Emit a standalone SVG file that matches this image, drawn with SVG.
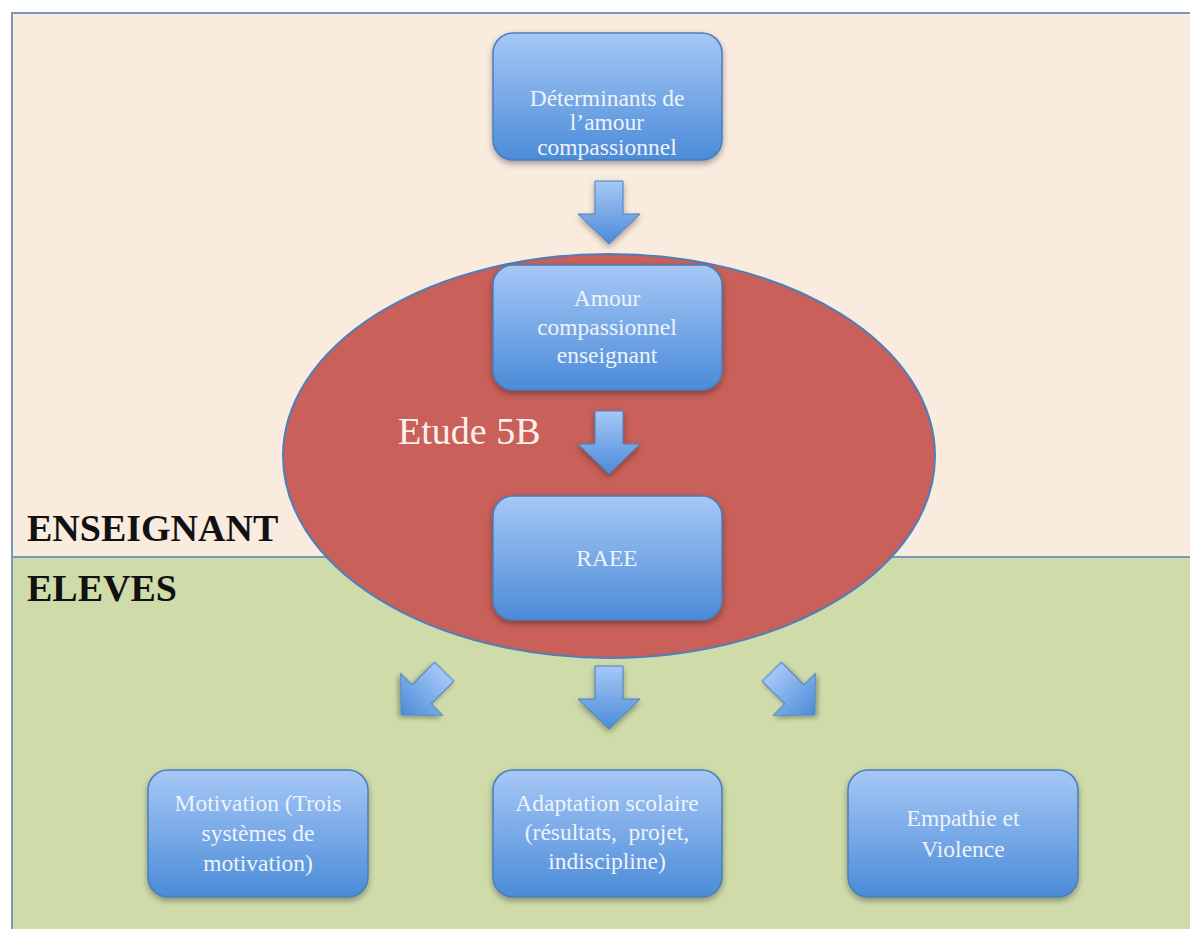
<svg xmlns="http://www.w3.org/2000/svg" width="1190" height="929" viewBox="0 0 1190 929">
<defs>
<linearGradient id="bg" x1="0" y1="0" x2="0" y2="1">
<stop offset="0" stop-color="#A6C8F6"/>
<stop offset="1" stop-color="#4B8BD8"/>
</linearGradient>
<filter id="sh" x="-20%" y="-20%" width="140%" height="150%">
<feDropShadow dx="0" dy="3" stdDeviation="3" flood-color="#000" flood-opacity="0.35"/>
</filter>
<polygon id="arr" points="-14,-31 14,-31 14,2 31,2 0,32 -31,2 -14,2"/>
<style>
.box{fill:url(#bg);stroke:#4A7EBB;stroke-width:1.5;filter:url(#sh)}
.bt{font-family:"Liberation Serif",serif;font-size:23.5px;fill:#EEF3FB;text-anchor:middle}
.ar{fill:url(#bg);stroke:#4A7EBB;stroke-width:1;filter:url(#sh)}
.lab{font-family:"Liberation Serif",serif;font-size:38px;font-weight:bold;fill:#111}
</style>
</defs>
<rect width="1190" height="929" fill="#FFFFFF"/>
<rect id="top-pane" x="12" y="13" width="1190" height="544" fill="#FAEBDF" stroke="#7A98BC" stroke-width="2"/>
<rect id="bottom-pane" x="12" y="557" width="1190" height="380" fill="#CFDCAA" stroke="#7A98BC" stroke-width="2"/>
<ellipse id="etude" cx="609" cy="456" rx="326" ry="202" fill="#C9605A" stroke="#4F7FB8" stroke-width="2"/>
<text class="lab" x="27" y="541">ENSEIGNANT</text>
<text class="lab" x="27" y="601">ELEVES</text>
<text x="398" y="444" font-family="Liberation Serif,serif" font-size="38" fill="#FBF1EC">Etude 5B</text>

<g id="connectors">
<use href="#arr" class="ar" transform="translate(609,212)"/>
<use href="#arr" class="ar" transform="translate(609,442)"/>
<use href="#arr" class="ar" transform="translate(609,697)"/>
<use href="#arr" class="ar" transform="translate(423,693) rotate(45) scale(0.97)"/>
<use href="#arr" class="ar" transform="translate(793,693) rotate(-45) scale(0.97)"/>
</g>

<g id="n1"><rect class="box" x="493" y="33" width="229" height="127" rx="20"/>
<text class="bt" x="607" y="106">Déterminants de</text>
<text class="bt" x="607" y="130">l’amour</text>
<text class="bt" x="607" y="155">compassionnel</text></g>

<g id="n2"><rect class="box" x="493" y="265" width="229" height="125" rx="20"/>
<text class="bt" x="607" y="306">Amour</text>
<text class="bt" x="607" y="335">compassionnel</text>
<text class="bt" x="607" y="363">enseignant</text></g>

<g id="n3"><rect class="box" x="493" y="496" width="229" height="124" rx="20"/>
<text class="bt" x="607" y="566">RAEE</text></g>

<g id="n4"><rect class="box" x="148" y="770" width="220" height="127" rx="20"/>
<text class="bt" x="258" y="811">Motivation (Trois</text>
<text class="bt" x="258" y="841">systèmes de</text>
<text class="bt" x="258" y="871">motivation)</text></g>

<g id="n5"><rect class="box" x="493" y="770" width="229" height="127" rx="20"/>
<text class="bt" x="607" y="811">Adaptation scolaire</text>
<text class="bt" x="607" y="840" xml:space="preserve">(résultats,  projet,</text>
<text class="bt" x="607" y="869">indiscipline)</text></g>

<g id="n6"><rect class="box" x="848" y="770" width="230" height="127" rx="20"/>
<text class="bt" x="963" y="826">Empathie et</text>
<text class="bt" x="963" y="857">Violence</text></g>
</svg>
